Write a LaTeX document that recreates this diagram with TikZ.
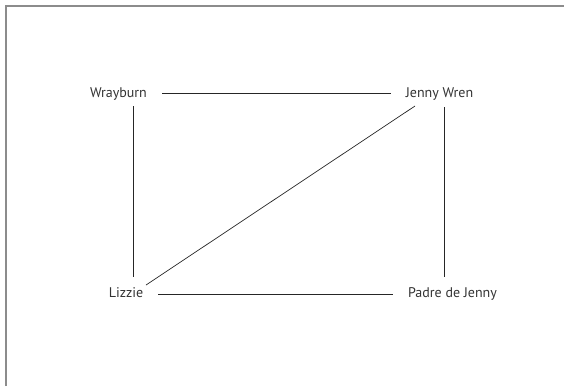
\documentclass[tikz,border=0pt]{standalone}
\usepackage{fontspec}
\setmainfont{PT Sans}
\begin{document}
\begin{tikzpicture}[x=1pt,y=-1pt,
  lbl/.style={anchor=base, inner xsep=15pt, inner ysep=0pt, text=black!80, font=\fontsize{14}{16}\selectfont},
  edge/.style={draw=black!85, line width=0.7pt},
  frame/.style={draw=black!45, line width=2pt}]
\useasboundingbox (0,0) rectangle (564,386);
\draw[frame] (5.5,386) -- (5.5,5.5) -- (564,5.5);
\node[lbl] (W) at (118.5,97) {Wrayburn};
\node[lbl] (J) at (439.5,97) {Jenny Wren};
\node[lbl] (L) at (126,297) {Lizzie};
\node[lbl] (P) at (452.5,297) {Padre de Jenny};
\draw[edge] ([yshift=4pt]W.base east) -- ([yshift=4pt]J.base west);
\draw[edge] ([yshift=3pt]L.base east) -- ([yshift=3pt]P.base west);
\draw[edge] ([xshift=14.5pt,yshift=-9pt]W.base) -- ([xshift=7pt,yshift=20pt]L.base);
\draw[edge] ([xshift=5pt,yshift=-10pt]J.base) -- ([xshift=-8pt,yshift=20pt]P.base);
\draw[edge] ([xshift=-24.5pt,yshift=-9pt]J.base) -- ([xshift=20pt,yshift=12pt]L.base);
\end{tikzpicture}
\end{document}
